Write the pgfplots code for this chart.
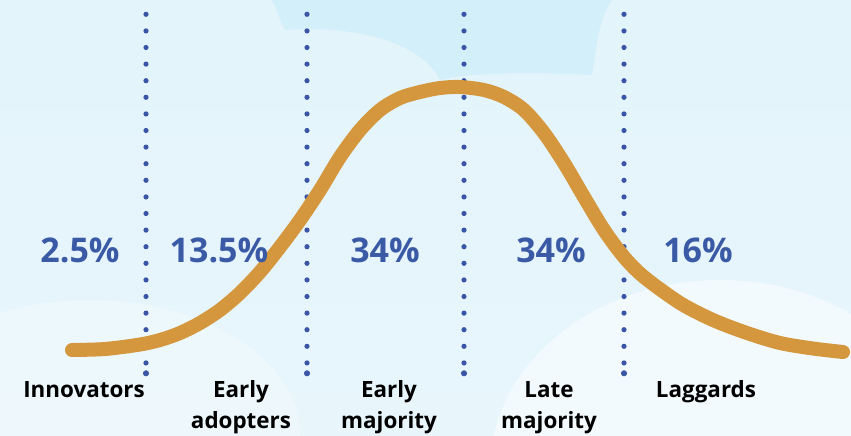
\documentclass[border=0pt]{standalone}
\usepackage{pgfplots}
\pgfplotsset{compat=1.18}
\usepackage{fontspec}
\setmainfont{Open Sans}
\definecolor{curvecol}{HTML}{D4973E}
\definecolor{pctblue}{HTML}{3B5AA6}
\definecolor{dotblue}{HTML}{3A55A5}
\definecolor{bgtop}{HTML}{E3F4FB}
\definecolor{bgbot}{HTML}{E8F6FC}
\definecolor{skydark}{HTML}{D3EFFA}
\definecolor{cloudw}{HTML}{F2FAFD}
\begin{document}
\begin{tikzpicture}
\begin{axis}[width=425.5pt,height=217.5pt,scale only axis,
  xmin=0,xmax=851,ymin=0,ymax=435,y dir=reverse,hide axis,clip=true]
% background
\fill[top color=bgtop,bottom color=bgbot] (axis cs:0,0) rectangle (axis cs:851,435);
\fill[skydark] (axis cs:272,0) -- (axis cs:612,0) .. controls (axis cs:598,20) and (axis cs:596,50) .. (axis cs:592,75)
  .. controls (axis cs:540,72) and (axis cs:470,72) .. (axis cs:440,80)
  .. controls (axis cs:420,40) and (axis cs:350,25) .. (axis cs:285,30)
  .. controls (axis cs:280,20) and (axis cs:276,8) .. cycle;
\fill[cloudw,opacity=0.6] (axis cs:90,435) ellipse [x radius=210, y radius=135];
\fill[cloudw] (axis cs:720,470) ellipse [x radius=230, y radius=190];
% dotted dividers
\pgfplotsinvokeforeach{146,307,464,624}{
  \addplot[dotblue,line width=2.6pt,line cap=round,dash pattern=on 0pt off 8.3pt] coordinates {(#1,14.3) (#1,366)};
  \addplot[dotblue,only marks,mark=*,mark size=1.3pt] coordinates {(#1,373.3)};
}
% curve
\addplot[curvecol,line width=7pt,line cap=round,smooth,tension=0.5] coordinates {
 (72,350) (105,349) (140,344.5) (160,340) (180,333) (200,323) (220,310) (240,293) (260,272)
 (280,247) (300,220) (320,190) (340,157) (360,130) (380,110) (400,98) (420,92) (440,88)
 (460,87) (484,90) (504,97) (524,110) (544,133) (564,163) (584,197) (604,230) (624,257)
 (644,277) (680,303) (713,320) (747,333) (780,343) (813,348.5) (843,352)};
% percentages
\begin{scope}[every node/.style={font=\bfseries\fontsize{17}{20}\selectfont,text=pctblue}]
\node at (axis cs:80,250) {2.5\%};
\node at (axis cs:219,250) {13.5\%};
\node at (axis cs:385,250) {34\%};
\node at (axis cs:551,250) {34\%};
\node at (axis cs:698,250) {16\%};
\end{scope}
% labels
\begin{scope}[every node/.style={font=\bfseries\fontsize{11.2}{14}\selectfont,text=black,anchor=base}]
\node at (axis cs:84,397) {Innovators};
\node at (axis cs:241,397) {Early};
\node at (axis cs:241,428) {adopters};
\node at (axis cs:389,397) {Early};
\node at (axis cs:389,428) {majority};
\node at (axis cs:549,397) {Late};
\node at (axis cs:549,428) {majority};
\node at (axis cs:706,397) {Laggards};
\end{scope}
\end{axis}
\end{tikzpicture}
\end{document}
